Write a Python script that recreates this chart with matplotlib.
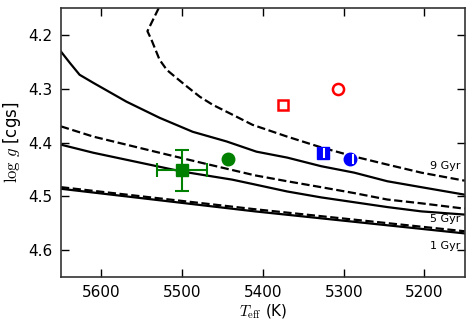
import matplotlib
matplotlib.use("Agg")
import matplotlib.pyplot as plt

plt.rcParams['mathtext.fontset'] = 'cm'
plt.rcParams['font.family'] = ['DejaVu Sans']

# Isochrone curves (Teff, logg)
iso9_dash_T = [5529, 5543, 5538, 5528, 5519, 5507, 5494, 5478, 5462, 5438, 5413,
               5370, 5328, 5287, 5246, 5204, 5150]
iso9_dash_g = [4.150, 4.193, 4.209, 4.246, 4.265, 4.280, 4.296, 4.315, 4.330, 4.348, 4.367,
               4.389, 4.409, 4.426, 4.441, 4.456, 4.471]
iso9_sol_T = [5650, 5639, 5627, 5610, 5569, 5528, 5487, 5445, 5408, 5370, 5328, 5287,
              5246, 5204, 5150]
iso9_sol_g = [4.231, 4.252, 4.274, 4.289, 4.324, 4.354, 4.380, 4.398, 4.417, 4.428, 4.444, 4.456,
              4.472, 4.483, 4.497]
iso5_dash_T = [5650, 5610, 5569, 5528, 5478, 5410, 5370, 5328, 5287, 5246, 5204, 5150]
iso5_dash_g = [4.370, 4.389, 4.404, 4.419, 4.437, 4.461, 4.472, 4.483, 4.494, 4.506, 4.513, 4.523]
iso5_sol_T = [5650, 5610, 5500, 5438, 5410, 5370, 5328, 5287, 5246, 5204, 5150]
iso5_sol_g = [4.404, 4.419, 4.454, 4.469, 4.478, 4.491, 4.502, 4.511, 4.520, 4.528, 4.534]
iso1_dash_T = [5650, 5410, 5150]
iso1_dash_g = [4.483, 4.524, 4.565]
iso1_sol_T = [5650, 5410, 5150]
iso1_sol_g = [4.486, 4.528, 4.569]

# Stars
red_sq = (5375, 4.331)
red_ci = (5307, 4.300)
blue_sq = (5326, 4.420)
blue_ci = (5292, 4.430)
green_ci = (5443, 4.430)
green_sq = (5500, 4.452)
green_sq_xerr = 31
green_sq_yerr = 0.039

age_labels = ['9 Gyr', '5 Gyr', '1 Gyr']
age_label_g = [4.443, 4.543, 4.593]

fig = plt.figure(figsize=(4.74, 3.32), dpi=100)
ax = fig.add_axes([0.1287, 0.1657, 0.852, 0.81])

lw = 1.6
ax.plot(iso9_dash_T, iso9_dash_g, 'k--', lw=lw)
ax.plot(iso9_sol_T, iso9_sol_g, 'k-', lw=lw)
ax.plot(iso5_dash_T, iso5_dash_g, 'k--', lw=lw)
ax.plot(iso5_sol_T, iso5_sol_g, 'k-', lw=lw)
ax.plot(iso1_dash_T, iso1_dash_g, 'k--', lw=lw)
ax.plot(iso1_sol_T, iso1_sol_g, 'k-', lw=lw)

ax.plot(*red_sq, 's', mfc='white', mec='red', mew=1.8, ms=7)
ax.plot(*red_ci, 'o', mfc='white', mec='red', mew=1.8, ms=8)
ax.plot(*blue_sq, 's', color='blue', ms=8)
ax.plot(blue_sq[0] - 2, blue_sq[1], '|', color='white', ms=7, mew=1.5)
ax.plot(*blue_ci, 'o', color='blue', ms=9)
ax.plot(blue_ci[0] - 4, blue_ci[1], '|', color='white', ms=7, mew=1.5)
ax.plot(*green_ci, 'o', color='green', ms=9)
ax.errorbar(green_sq[0], green_sq[1], xerr=green_sq_xerr, yerr=green_sq_yerr,
            fmt='s', color='green', ms=9, elinewidth=1.5, capsize=5, capthick=1.5)

for lab, g in zip(age_labels, age_label_g):
    ax.text(5156, g, lab, ha='right', va='center', fontsize=8)

ax.set_xlim(5650, 5150)
ax.set_ylim(4.65, 4.15)
ax.set_xticks([5600, 5500, 5400, 5300, 5200])
ax.set_yticks([4.2, 4.3, 4.4, 4.5, 4.6])
ax.tick_params(direction='in', top=True, right=True, length=6, width=1, labelsize=11, pad=6)
for s in ax.spines.values():
    s.set_linewidth(1.2)
    s.set_color('#333333')
ax.set_xlabel(r'$T_{\rm eff}$ (K)', fontsize=11, labelpad=2)
ax.set_ylabel(r'$\log\,g$ [cgs]', fontsize=12, labelpad=4)

fig.savefig('out.png', dpi=100)
